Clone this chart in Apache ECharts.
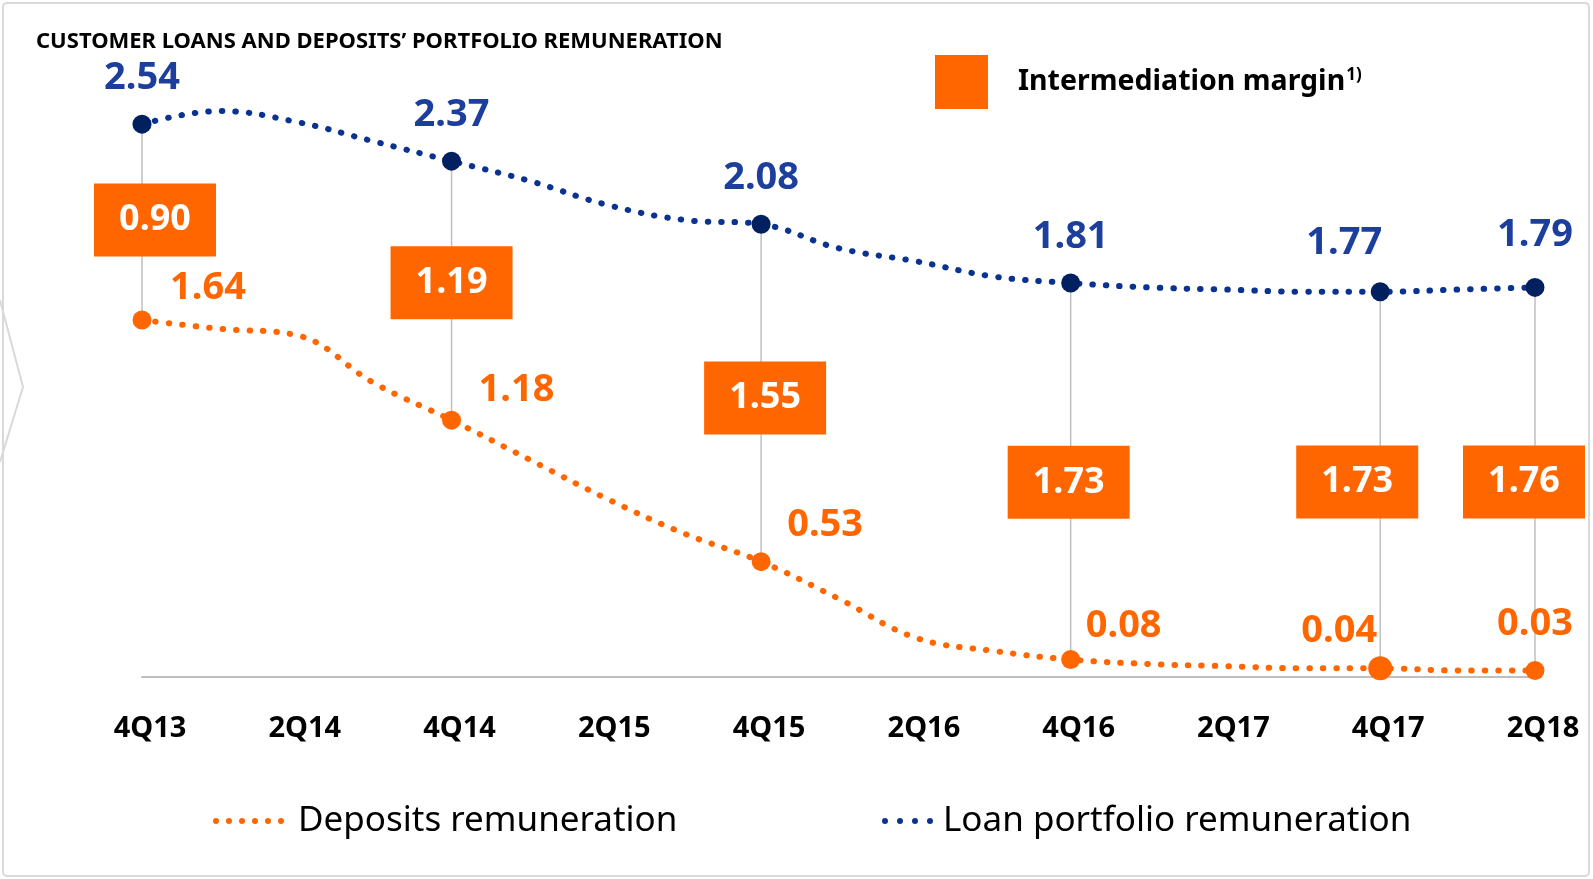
<!DOCTYPE html>
<html><head><meta charset="utf-8">
<script src="https://cdn.jsdelivr.net/npm/echarts@6/dist/echarts.min.js"></script>
<style>html,body{margin:0;padding:0;background:#fff}#c{width:1593px;height:879px}</style>
</head><body><div id="c"></div>
<script>
// ---- data ----
const quarters = ['4Q13','1Q14','2Q14','3Q14','4Q14','1Q15','2Q15','3Q15','4Q15','1Q16','2Q16','3Q16','4Q16','1Q17','2Q17','3Q17','4Q17','1Q18','2Q18'];
const tickLabels = ['4Q13','2Q14','4Q14','2Q15','4Q15','2Q16','4Q16','2Q17','4Q17','2Q18'];
const loanRemuneration = [2.54,2.60,2.55,2.46,2.37,2.28,2.17,2.10,2.08,1.97,1.91,1.84,1.81,1.79,1.78,1.77,1.77,1.78,1.79];
const depositsRemuneration = [1.64,1.60,1.57,1.35,1.18,1.00,0.82,0.66,0.53,0.36,0.18,0.12,0.08,0.06,0.05,0.04,0.04,0.03,0.03];
const reportedQuarters = ['4Q13','4Q14','4Q15','4Q16','4Q17','2Q18'];
const intermediationMargin = [0.90,1.19,1.55,1.73,1.73,1.76];
const title = 'CUSTOMER LOANS AND DEPOSITS\u2019 PORTFOLIO REMUNERATION';

// ---- styles ----
const FONT = '"Noto Sans", "Open Sans", sans-serif';
const ORANGE = '#FF6600';
const NAVY = '#002060';
const BLUE_LINE = '#0A3391';
const BLUE_TEXT = '#1C3E9C';
const loanLabelOffset = {'4Q17': [-36, -49], '2Q18': [0, -52]};
const depLabelOffset = {'4Q13': [66, -32], '4Q14': [65, -30], '4Q15': [64, -36], '4Q16': [53, -33], '4Q17': [-41, -37], '2Q18': [0, -46]};
const boxNudge = {'4Q13': [13, -2], '4Q14': [0, -8], '4Q15': [4, 5], '4Q16': [-2, 11], '4Q17': [-23, 2], '2Q18': [0, 3]};

function dotsPath(n, step, r) {
  let d = '';
  for (let i = 0; i < n; i++) {
    const cx = r + i * step;
    d += `M${cx - r},${r}a${r},${r} 0 1,0 ${2 * r},0a${r},${r} 0 1,0 ${-2 * r},0Z`;
  }
  return 'path://' + d;
}

function lineData(values, color, labelColor, offsets, defOffset, bigAt) {
  return values.map((v, i) => {
    const q = quarters[i];
    const rep = reportedQuarters.indexOf(q) >= 0;
    if (!rep) return {value: v, symbol: 'none', label: {show: false}};
    return {
      value: v, symbol: 'circle', symbolSize: (bigAt === q ? 24 : 19),
      itemStyle: {color: color},
      label: {show: true, position: 'inside', offset: offsets[q] || defOffset,
        formatter: p => p.value.toFixed(2), color: labelColor,
        fontFamily: FONT, fontWeight: 'bold', fontSize: 38}
    };
  });
}

const marginData = reportedQuarters.map((q, i) => {
  const k = quarters.indexOf(q);
  return [k, loanRemuneration[k], depositsRemuneration[k], intermediationMargin[i]];
});

const chart = echarts.init(document.getElementById('c'), null, {renderer: 'canvas'});
chart.setOption({
  animation: false,
  backgroundColor: '#fff',
  title: {text: title, left: 31, top: 26,
    textStyle: {fontFamily: FONT, fontWeight: 'bold', fontSize: 22, color: '#000'}},
  grid: {left: 142, right: 58, top: 24, bottom: 202, containLabel: false},
  xAxis: {
    type: 'category', data: quarters, boundaryGap: false,
    axisLine: {lineStyle: {color: '#BFBFBF', width: 2}},
    axisTick: {show: false},
    axisLabel: {interval: 0, margin: 34, lineHeight: 36, padding: [0, 0, 0, 16],
      formatter: v => tickLabels.indexOf(v) >= 0 ? v : '',
      fontFamily: FONT, fontWeight: 'bold', fontSize: 29, color: '#000'},
    splitLine: {show: false}
  },
  yAxis: {type: 'value', min: 0, max: 3, show: false, splitLine: {show: false}},
  legend: [
    {data: [{name: 'Intermediation margin', icon: 'rect', itemStyle: {color: ORANGE}}],
     left: 930, top: 50, itemWidth: 53, itemHeight: 54, selectedMode: false,
     formatter: n => '{a|' + n + '}{s|1)}',
     textStyle: {padding: [0, 0, 0, 25], rich: {
       a: {fontFamily: FONT, fontWeight: 'bold', fontSize: 28.5, color: '#000'},
       s: {fontFamily: FONT, fontWeight: 'bold', fontSize: 17, color: '#000', verticalAlign: 'top', padding: [0, 0, 14, 1]}}}},
    {data: [{name: 'Deposits remuneration', icon: dotsPath(6, 13, 3), itemStyle: {color: ORANGE}}],
     left: 208, top: 794, itemWidth: 71, itemHeight: 6, selectedMode: false,
     textStyle: {fontFamily: FONT, fontSize: 35, color: '#000', lineHeight: 44, padding: [0, 0, 0, 9]}},
    {data: [{name: 'Loan portfolio remuneration', icon: dotsPath(4, 15, 3), itemStyle: {color: BLUE_LINE}}],
     left: 877, top: 794, itemWidth: 51, itemHeight: 6, selectedMode: false,
     textStyle: {fontFamily: FONT, fontSize: 35, color: '#000', lineHeight: 44, padding: [0, 0, 0, 5]}}
  ],
  graphic: [
    {type: 'rect', shape: {x: 3, y: 3, width: 1586, height: 873, r: 4}, silent: true,
     style: {fill: 'none', stroke: '#D9D9D9', lineWidth: 2}, z: -1},
    {type: 'polyline', shape: {points: [[0, 300], [23, 387], [0, 462]]}, silent: true,
     style: {fill: 'none', stroke: '#D9D9D9', lineWidth: 2}, z: -1}
  ],
  series: [
    {
      name: 'Intermediation margin', type: 'custom', z: 2,
      data: marginData, encode: {x: 0, y: [1, 2]},
      itemStyle: {color: ORANGE},
      renderItem: (params, api) => {
        const x = api.value(0), lo = api.value(1), de = api.value(2), m = api.value(3);
        const nudge = boxNudge[quarters[x]] || [0, 0];
        const p1 = api.coord([x, lo]), p2 = api.coord([x, de]), pm = api.coord([x, (lo + de) / 2]);
        const W = 122, H = 73;
        const cx = Math.min(pm[0] + nudge[0], api.getWidth() - 8 - W / 2);
        const cy = pm[1] + nudge[1];
        return {type: 'group', children: [
          {type: 'line', shape: {x1: p1[0], y1: p1[1], x2: p2[0], y2: p2[1]}, style: {stroke: '#BFBFBF', lineWidth: 1.5}},
          {type: 'rect', shape: {x: cx - W / 2, y: cy - H / 2, width: W, height: H}, style: {fill: ORANGE}},
          {type: 'text', style: {x: cx, y: cy, text: m.toFixed(2), fill: '#fff', align: 'center', verticalAlign: 'middle',
            fontFamily: FONT, fontWeight: 'bold', fontSize: 36}}
        ]};
      }
    },
    {
      name: 'Loan portfolio remuneration', type: 'line', z: 3, smooth: 0.4,
      data: lineData(loanRemuneration, NAVY, BLUE_TEXT, loanLabelOffset, [0, -46], null),
      lineStyle: {color: BLUE_LINE, width: 6, type: [0.5, 13], cap: 'round'},
      itemStyle: {color: NAVY}
    },
    {
      name: 'Deposits remuneration', type: 'line', z: 3, smooth: 0.4,
      data: lineData(depositsRemuneration, ORANGE, ORANGE, depLabelOffset, [60, -32], '4Q17'),
      lineStyle: {color: ORANGE, width: 6, type: [0.5, 13], cap: 'round'},
      itemStyle: {color: ORANGE}
    }
  ]
});
</script></body></html>
